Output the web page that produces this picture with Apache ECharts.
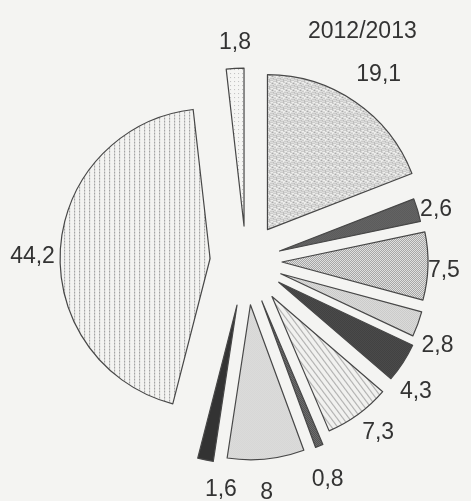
<!DOCTYPE html>
<html>
<head>
<meta charset="utf-8">
<script src="https://cdn.jsdelivr.net/npm/echarts@6/dist/echarts.min.js"></script>
<style>
html, body { margin: 0; padding: 0; background: #f4f4f2; }
#chart { width: 471px; height: 501px; }
</style>
</head>
<body>
<div id="chart"></div>
<script>
// shares for 2012/2013, clockwise from 12 o'clock
var period = '2012/2013'
var values = [19.1, 2.6, 7.5, 2.8, 4.3, 7.3, 0.8, 8, 1.6, 44.2, 1.8]

// look of each slice: explode distance, radius, label distance, label nudge, fill
var offsets = [38, 35, 36, 37, 39, 44, 43, 44, 45, 36, 35]
var radii = [155, 144, 146, 146, 148, 146, 156, 155, 158, 150, 158]
var labelGaps = [42, 12, 9, 21, 25, 22, 39, 36, 33, 30, 36]
var labelNudge = [[0, 8], [7, 3], [7, 4], [0, 14], [-8, 15], [7, 1], [-6, -3], [-3, -2], [22, -3], [2, 11], [2, 10]]
var fills = ['stipple', 'darkGrid', 'midGrid', 'lightGrid', 'dark', 'lines', 'darkMid', 'lightGrid2', 'darkest', 'dotCols', 'sparse']

var FONT = 'Liberation Sans, Arial, sans-serif'

// small canvas tiles to imitate the printed screens
function tile (w, h, bg, draw) {
  var c = document.createElement('canvas')
  c.width = w
  c.height = h
  var g = c.getContext('2d')
  g.fillStyle = bg
  g.fillRect(0, 0, w, h)
  if (draw) draw(g)
  return { image: c, repeat: 'repeat' }
}
function dots (pts, color) {
  return function (g) {
    g.fillStyle = color
    pts.forEach(function (p) { g.fillRect(p[0], p[1], 1, 1) })
  }
}
function checker (a, b) {
  return tile(2, 2, a, dots([[1, 0], [0, 1]], b))
}

var patterns = {
  stipple: tile(7, 7, '#eeeeec', dots([[0, 0], [3, 1], [6, 2], [1, 3], [4, 4], [2, 5], [5, 6], [0, 5], [5, 2], [2, 0], [6, 4], [3, 6]], '#8c8c8c')),
  darkGrid: checker('#444444', '#7c7c7c'),
  midGrid: checker('#a2a2a2', '#e4e4e2'),
  lightGrid: checker('#bababa', '#ececea'),
  dark: checker('#383838', '#555555'),
  lines: tile(6, 8, '#f1f1ef', function (g) {
    g.strokeStyle = '#989898'
    g.lineWidth = 1
    ;[-6, 0, 6].forEach(function (s) {
      g.beginPath()
      g.moveTo(s, 0)
      g.lineTo(s + 6, 8)
      g.stroke()
    })
  }),
  darkMid: checker('#505050', '#727272'),
  lightGrid2: checker('#c4c4c4', '#efefed'),
  darkest: tile(2, 2, '#333333'),
  dotCols: tile(5, 3, '#f3f3f1', function (g) {
    g.fillStyle = '#999999'
    g.fillRect(0, 0, 1, 2)
  }),
  sparse: tile(4, 4, '#f5f5f3', dots([[0, 0]], '#bdbdbd'))
}

var myChart = echarts.init(document.getElementById('chart'))

// one pie per slice so every slice gets its own explode distance;
// all pies hold the full data so the angles come from the values
var series = values.map(function (v, i) {
  var style = { color: patterns[fills[i]], borderColor: '#474747', borderWidth: 1.2 }
  return {
    type: 'pie',
    center: [246, 261],
    radius: radii[i],
    startAngle: 90,
    clockwise: true,
    selectedMode: 'multiple',
    selectedOffset: offsets[i],
    silent: true,
    animation: false,
    avoidLabelOverlap: false,
    label: { show: false },
    labelLine: { show: false },
    labelLayout: { align: 'center', verticalAlign: 'middle', dx: labelNudge[i][0], dy: labelNudge[i][1] },
    data: values.map(function (w, j) {
      if (j !== i) {
        return {
          value: w,
          itemStyle: { color: 'rgba(0,0,0,0)', borderWidth: 0 },
          select: { itemStyle: { color: 'rgba(0,0,0,0)', borderWidth: 0 } },
          label: { show: false }
        }
      }
      return {
        value: w,
        selected: true,
        itemStyle: style,
        select: { itemStyle: style },
        label: {
          show: true,
          position: 'outside',
          formatter: function (p) { return String(p.value).replace('.', ',') },
          color: '#333',
          fontSize: 23,
          fontFamily: FONT,
          width: 70,
          distanceToLabelLine: 0
        },
        labelLine: { show: false, length: labelGaps[i], length2: 0 }
      }
    })
  }
})

myChart.setOption({
  backgroundColor: '#f4f4f2',
  title: {
    text: period,
    left: 303,
    top: 15,
    textStyle: { fontSize: 23, fontWeight: 'normal', color: '#333', fontFamily: FONT }
  },
  series: series
})
</script>
</body>
</html>
